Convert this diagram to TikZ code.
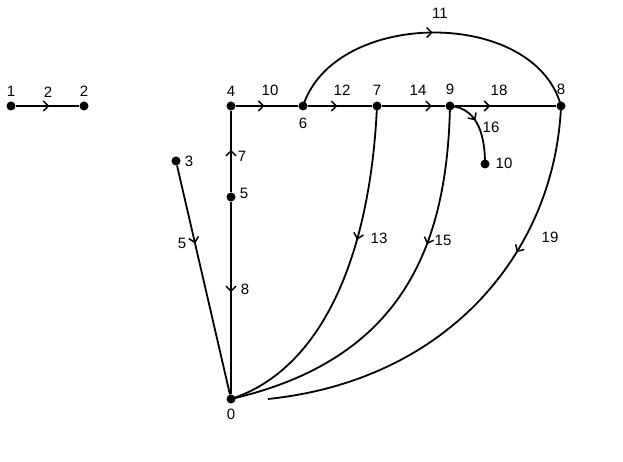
\documentclass[tikz,border=0pt]{standalone}
\usepackage{fontspec}
\setmainfont{Liberation Sans}
\usetikzlibrary{arrows.meta, decorations.markings}

\tikzset{
    vertex/.style={circle, fill=black, inner sep=0pt, minimum size=9pt},
    num/.style={inner sep=0pt, font=\fontsize{15}{18}\selectfont},
    edge/.style={line width=1.8pt},
    midarrow/.style={postaction={decorate}, decoration={markings,
        mark=at position #1 with {\arrow{Straight Barb[length=5pt, width=10pt, line width=1.5pt]}}}}
}

\begin{document}
\begin{tikzpicture}[x=1pt, y=-1pt]
    \useasboundingbox (0,0) rectangle (623,462);
    % vertices
    \node[vertex] (n1) at (11,106) {};
    \node[vertex] (n2) at (84,106) {};
    \node[vertex] (n4) at (231,106) {};
    \node[vertex] (n6) at (303,106) {};
    \node[vertex] (n7) at (377,106) {};
    \node[vertex] (n9) at (450,106) {};
    \node[vertex] (n8) at (561,106) {};
    \node[vertex] (n3) at (176,161) {};
    \node[vertex] (n5) at (231,197) {};
    \node[vertex] (n10) at (485,164) {};
    \node[vertex] (n0) at (231,399) {};
    \coordinate (end19) at (268,399);
    % vertex numbers
    \node[num] (t1) at (11,91) {1};
    \node[num] (t2) at (84,91) {2};
    \node[num] (t4) at (231,91) {4};
    \node[num] (t6) at (303,123) {6};
    \node[num] (t7) at (377,90) {7};
    \node[num] (t9) at (450,89) {9};
    \node[num] (t8) at (561,89) {8};
    \node[num] (t3) at (189,161) {3};
    \node[num] (t5) at (244,193) {5};
    \node[num] (t10) at (504,163) {10};
    \node[num] (t0) at (231,414) {0};
    % straight edges
    \draw[edge, midarrow=0.53] (n1) -- (n2);
    \draw[edge, midarrow=0.46] (n4) -- (n6);
    \draw[edge, midarrow=0.46] (n6) -- (n7);
    \draw[edge, midarrow=0.79] (n7) -- (n9);
    \draw[edge, midarrow=0.35] (n9) -- (n8);
    \draw[edge, midarrow=0.52] (n5) -- (n4);
    \draw[edge, midarrow=0.47] (n5) -- (n0);
    \draw[edge, midarrow=0.34] (n3) -- (n0);
    % curved edges
    \draw[edge, midarrow=0.5] (n6.center) .. controls (335,8) and (535,8) .. (n8.center);
    \draw[edge, midarrow=0.4] (n9.center) .. controls (480,108) and (485,140) .. (n10.center);
    \draw[edge, midarrow=0.39] (n7.center) .. controls (370,260) and (320,370) .. (n0.center);
    \draw[edge, midarrow=0.35] (n9.center) .. controls (447,250) and (400,360) .. (n0.center);
    \draw[edge, midarrow=0.34] (n8.center) .. controls (555,250) and (450,380) .. (end19);
    % edge numbers
    \node[num] (e2) at (48,92) {2};
    \node[num] (e10) at (270,90) {10};
    \node[num] (e12) at (342,90) {12};
    \node[num] (e14) at (418,90) {14};
    \node[num] (e18) at (499,90) {18};
    \node[num] (e11) at (440,13) {11};
    \node[num] (e7) at (242,156) {7};
    \node[num] (e5) at (182,243) {5};
    \node[num] (e8) at (245,289) {8};
    \node[num] (e13) at (379,238) {13};
    \node[num] (e15) at (443,240) {15};
    \node[num] (e19) at (550,237) {19};
    \node[num] (e16) at (491,127) {16};
\end{tikzpicture}
\end{document}
